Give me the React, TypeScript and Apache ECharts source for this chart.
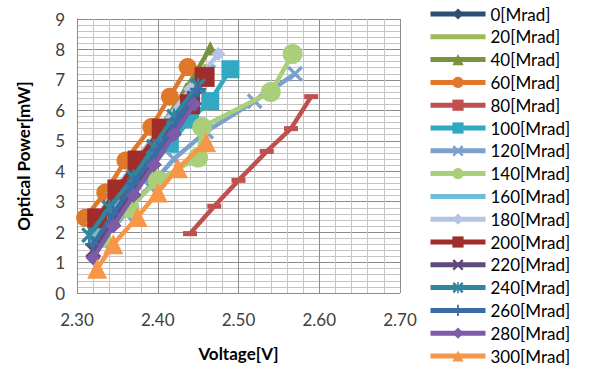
import React, { useEffect, useRef } from "react";
import * as echarts from "echarts";

const seriesNames = ["0[Mrad]", "20[Mrad]", "40[Mrad]", "60[Mrad]", "80[Mrad]", "100[Mrad]", "120[Mrad]", "140[Mrad]", "160[Mrad]", "180[Mrad]", "200[Mrad]", "220[Mrad]", "240[Mrad]", "260[Mrad]", "280[Mrad]", "300[Mrad]"];

const s0 = [[2.32, 1.9], [2.345, 2.9], [2.37, 3.9], [2.395, 4.9], [2.42, 5.9], [2.445, 6.9]];
const s20 = [[2.325, 2.0], [2.355, 3.1], [2.38, 4.1], [2.41, 5.2], [2.435, 6.3], [2.46, 7.5]];
const s40 = [[2.32, 2.2], [2.35, 3.3], [2.375, 4.4], [2.405, 5.5], [2.435, 6.7], [2.465, 8.05]];
const s60 = [[2.31, 2.47], [2.335, 3.3], [2.36, 4.35], [2.392, 5.45], [2.415, 6.45], [2.437, 7.42]];
const s80 = [[2.44, 1.95], [2.47, 2.85], [2.5, 3.7], [2.535, 4.65], [2.565, 5.4], [2.59, 6.45]];
const s100 = [[2.325, 1.8], [2.355, 2.9], [2.385, 3.9], [2.415, 4.9], [2.44, 5.7], [2.465, 6.3], [2.49, 7.35]];
const s120 = [[2.33, 1.7], [2.36, 2.6], [2.39, 3.5], [2.42, 4.4], [2.46, 5.3], [2.52, 6.3], [2.57, 7.2]];
const s140 = [[2.33, 1.8], [2.365, 2.8], [2.4, 3.7], [2.45, 4.45], [2.455, 5.45], [2.54, 6.6], [2.567, 7.85]];
const s160 = [[2.32, 1.9], [2.35, 2.9], [2.38, 4.0], [2.41, 5.1], [2.44, 6.3], [2.47, 7.5]];
const s180 = [[2.32, 2.3], [2.345, 3.3], [2.375, 4.4], [2.405, 5.5], [2.44, 6.7], [2.475, 7.85]];
const s200 = [[2.325, 2.45], [2.35, 3.4], [2.375, 4.35], [2.405, 5.4], [2.44, 6.2], [2.458, 7.1]];
const s220 = [[2.32, 1.4], [2.345, 2.4], [2.37, 3.4], [2.395, 4.4], [2.42, 5.4], [2.445, 6.4]];
const s240 = [[2.315, 1.9], [2.34, 2.8], [2.37, 3.8], [2.395, 4.8], [2.42, 5.8], [2.45, 6.8]];
const s260 = [[2.32, 1.6], [2.345, 2.6], [2.37, 3.6], [2.4, 4.7], [2.425, 5.7], [2.45, 6.7]];
const s280 = [[2.32, 1.15], [2.345, 2.2], [2.37, 3.2], [2.395, 4.2], [2.42, 5.2], [2.445, 6.2]];
const s300 = [[2.325, 0.8], [2.345, 1.6], [2.375, 2.5], [2.4, 3.3], [2.425, 4.1], [2.46, 4.95]];

const seriesData = [s0, s20, s40, s60, s80, s100, s120, s140, s160, s180, s200, s220, s240, s260, s280, s300];

const colors = ["#2C4D75", "#9BBB59", "#77933C", "#E0782A", "#C0504D", "#31A9C2", "#7BA0CD", "#A9CF7A", "#6DBDD6", "#B4C4E4", "#A12D2B", "#604A7B", "#31859C", "#3A6BA5", "#7D5BA6", "#F79646"];

const X_PATH = "path://M0,1.5L1.5,0L5,3.5L8.5,0L10,1.5L6.5,5L10,8.5L8.5,10L5,6.5L1.5,10L0,8.5L3.5,5Z";
const STAR_PATH = "path://M0,1.5L1.5,0L4.3,2.8V0H5.7V2.8L8.5,0L10,1.5L6.5,5L10,8.5L8.5,10L5.7,7.2V10H4.3V7.2L1.5,10L0,8.5L3.5,5Z";
const PLUS_PATH = "path://M4.2,0H5.8V4.2H10V5.8H5.8V10H4.2V5.8H0V4.2H4.2Z";

const symbols: any[] = ["diamond", "none", "triangle", "circle", "rect", "rect", X_PATH, "circle", "none", "diamond", "rect", X_PATH, STAR_PATH, PLUS_PATH, "diamond", "triangle"];
const symbolSizes: any[] = [12, 0, 14, 18, [14, 5], 18, 16, 20, 0, 14, 20, 16, 16, 16, 15, 20];

export default function App() {
  const ref = useRef<HTMLDivElement>(null);
  useEffect(() => {
    if (!ref.current) return;
    const chart = echarts.init(ref.current, null, { renderer: "svg" });
    const font = "Lato, 'Open Sans', sans-serif";
    chart.setOption({
      animation: false,
      textStyle: { fontFamily: font },
      grid: { left: 77, right: 193, top: 19, bottom: 79 },
      legend: {
        orient: "vertical",
        left: 428,
        top: 5,
        height: 420,
        padding: 0,
        itemWidth: 55,
        itemHeight: 14,
        itemGap: 4.8,
        data: seriesNames.map((name, i) =>
          symbols[i] === "none" ? { name, itemStyle: { opacity: 0 } } : { name }
        ),
        lineStyle: { width: 5 },
        textStyle: { fontSize: 17, color: "#000", fontFamily: font, lineHeight: 18 },
      },
      xAxis: {
        type: "value",
        min: 2.3,
        max: 2.7,
        interval: 0.1,
        name: "Voltage[V]",
        nameLocation: "middle",
        nameGap: 52,
        nameTextStyle: { fontSize: 17, fontWeight: "bold", color: "#000", fontFamily: font },
        axisLine: { show: false },
        axisTick: { show: false },
        axisLabel: { fontSize: 17, color: "#404040", margin: 18, formatter: (v: number) => v.toFixed(2) },
        splitLine: { show: true, lineStyle: { color: "#8C8C8C", width: 1 } },
        minorTick: { show: false, splitNumber: 5 },
        minorSplitLine: { show: true, lineStyle: { color: "#C4C4C4", width: 1 } },
      },
      yAxis: {
        type: "value",
        min: 0,
        max: 9,
        interval: 1,
        name: "Optical Power[mW]",
        nameLocation: "middle",
        nameGap: 45,
        nameTextStyle: { fontSize: 17, fontWeight: "bold", color: "#000", fontFamily: font },
        axisLine: { show: true, lineStyle: { color: "#8C8C8C" } },
        axisTick: { show: false },
        axisLabel: { fontSize: 17, color: "#404040", margin: 12 },
        splitLine: { show: true, lineStyle: { color: "#8C8C8C", width: 1 } },
        minorTick: { show: false, splitNumber: 5 },
        minorSplitLine: { show: true, lineStyle: { color: "#C4C4C4", width: 1 } },
      },
      series: seriesNames.map((name, i) => ({
        name,
        type: "line",
        data: seriesData[i],
        color: colors[i],
        symbol: symbols[i],
        symbolSize: symbolSizes[i],
        showSymbol: symbols[i] !== "none",
        lineStyle: { width: 4.5, color: colors[i] },
        itemStyle: { color: colors[i] },
        z: 2 + i * 0.01,
      })),
    });
    return () => chart.dispose();
  }, []);
  return <div ref={ref} style={{ width: 593, height: 372, position: "absolute", left: 0, top: 0 }} />;
}
